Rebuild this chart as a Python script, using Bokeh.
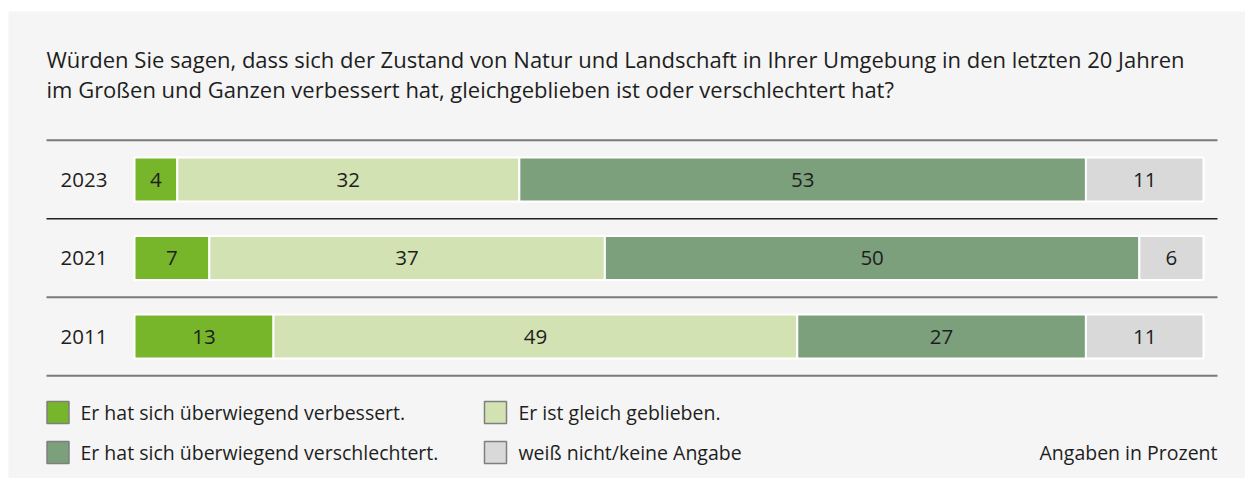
from bokeh.plotting import figure
from bokeh.models import Range1d, ColumnDataSource
from bokeh.core.properties import value
from bokeh.embed import file_html
from bokeh.resources import INLINE

# ---- data ----
years = ["2023", "2021", "2011"]
verbessert = [4, 7, 13]
gleich = [32, 37, 49]
verschlechtert = [53, 50, 27]
weiss_nicht = [11, 6, 11]

series_names = ["Er hat sich überwiegend verbessert.",
                "Er ist gleich geblieben.",
                "Er hat sich überwiegend verschlechtert.",
                "weiß nicht/keine Angabe"]
series_colors = ["#77b52b", "#d3e2b2", "#7ba07b", "#d9d9d9"]
title_lines = ["Würden Sie sagen, dass sich der Zustand von Natur und Landschaft in Ihrer Umgebung in den letzten 20 Jahren",
               "im Großen und Ganzen verbessert hat, gleichgeblieben ist oder verschlechtert hat?"]
note = "Angaben in Prozent"

FONT = "Open Sans"
TXT = "#1e1e1e"

# ---- layout (pixels in frame) ----
W, H, LEFT, TOP = 1245, 478, 8, 11
FW, FH = W - LEFT, H - TOP
BAR0, BAR100 = 126, 1195          # frame px of 0 % and 100 %
scale = (BAR100 - BAR0) / 100.0
x_start = -BAR0 / scale
x_end = x_start + FW / scale


def xd(px):
    return x_start + px / scale


p = figure(width=W, height=H, output_backend="svg", toolbar_location=None,
           x_range=Range1d(x_start, x_end), y_range=Range1d(FH, 0),
           x_axis_location=None, y_axis_location=None,
           min_border_left=LEFT, min_border_right=0, min_border_bottom=0,
           min_border_top=TOP)
p.background_fill_color = "#f5f5f5"
p.border_fill_color = "white"
p.outline_line_color = None
p.xgrid.visible = False
p.ygrid.visible = False

row0, pitch, bar_h = 168, 78.5, 44
row_y = [row0 + i * pitch for i in range(len(years))]

# separator lines
line_y = [row_y[0] - pitch / 2] + [y + pitch / 2 for y in row_y]
line_col = ["#7a7a7a", "#222222", "#7a7a7a", "#7a7a7a"]
line_w = [2, 1.4, 2, 2]
for y, c, w in zip(line_y, line_col, line_w):
    p.segment(x0=xd(38), x1=xd(1209), y0=y, y1=y, line_color=c, line_width=w)

# stacked bars
all_series = [verbessert, gleich, verschlechtert, weiss_nicht]
left = [0.0] * len(years)
for vals, col in zip(all_series, series_colors):
    right = [l + v for l, v in zip(left, vals)]
    src = ColumnDataSource(dict(y=row_y, left=left, right=right,
                                mid=[(l + r) / 2 for l, r in zip(left, right)],
                                lab=[str(v) for v in vals]))
    p.hbar(y="y", left="left", right="right", height=bar_h, source=src,
           fill_color=col, line_color="white", line_width=2)
    p.text(x="mid", y="y", text="lab", source=src, text_align="center",
           text_baseline="middle", text_font=value(FONT), text_font_size="20.5px",
           text_color=TXT)
    left = right

# year labels
p.text(x=[xd(52)] * len(years), y=row_y, text=years, text_align="left",
       text_baseline="middle", text_font=value(FONT), text_font_size="20.5px",
       text_color=TXT)

# title
p.text(x=[xd(38)] * 2, y=[47, 77], text=title_lines, text_align="left",
       text_baseline="middle", text_font=value(FONT), text_font_size="22px",
       text_color=TXT)

# legend
leg_x = [xd(49.5), xd(487), xd(49.5), xd(487)]
leg_y = [401, 401, 441, 441]
leg_order = [0, 1, 2, 3]
p.rect(x=leg_x, y=leg_y, width=22, height=22, width_units="screen",
       height_units="screen", fill_color=[series_colors[i] for i in leg_order],
       line_color="#7f7f7f", line_width=1.5)
p.text(x=[xd(72), xd(510), xd(72), xd(510)], y=leg_y,
       text=[series_names[i] for i in leg_order], text_align="left",
       text_baseline="middle", text_font=value(FONT), text_font_size="19.5px",
       text_color=TXT)

p.text(x=[xd(1209)], y=[441], text=[note], text_align="right",
       text_baseline="middle", text_font=value(FONT), text_font_size="19.5px",
       text_color=TXT)

open("out.html", "w").write(file_html(p, INLINE))
